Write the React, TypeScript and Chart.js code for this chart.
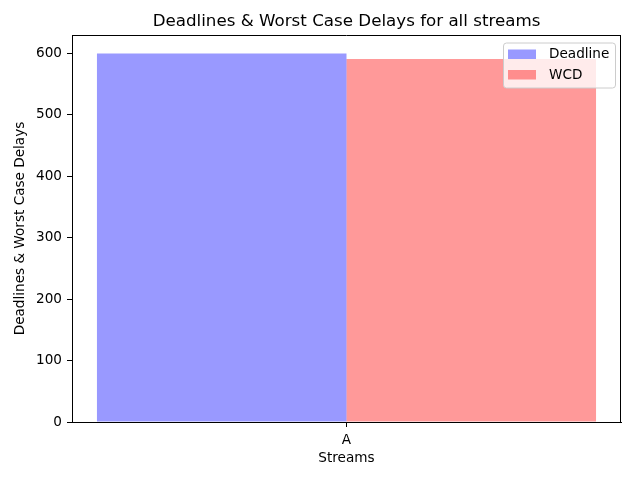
import React, { useEffect, useRef } from "react";
import { Chart, registerables } from "chart.js";

Chart.register(...registerables);

const categories = ["A"];
const deadlineValues = [600];
const wcdValues = [591];
const seriesLabels = ["Deadline", "WCD"];
const yTicks = [0, 100, 200, 300, 400, 500, 600];

const FONT = "'DejaVu Sans', sans-serif";
const FS = 13.6;
const BLUE = "rgba(0,0,255,0.4)";
const RED = "rgba(255,0,0,0.4)";

const framePlugin = {
  id: "frameAndLegend",
  afterDraw(chart: any) {
    const { ctx, chartArea } = chart;
    const { left, right, top, bottom } = chartArea;
    ctx.save();
    // frame (top and right)
    ctx.strokeStyle = "#000";
    ctx.lineWidth = 1;
    ctx.beginPath();
    ctx.moveTo(left, top + 0.5);
    ctx.lineTo(right, top + 0.5);
    ctx.moveTo(Math.round(right) - 0.5, top);
    ctx.lineTo(Math.round(right) - 0.5, bottom);
    ctx.stroke();
    // title
    ctx.fillStyle = "#000";
    ctx.font = `16.7px ${FONT}`;
    ctx.textAlign = "center";
    ctx.textBaseline = "alphabetic";
    ctx.fillText("Deadlines & Worst Case Delays for all streams", (left + right) / 2, 26);
    // legend
    const bx = 503.5, by = 43, bw = 112, bh = 45, r = 3;
    ctx.beginPath();
    ctx.moveTo(bx + r, by);
    ctx.lineTo(bx + bw - r, by);
    ctx.quadraticCurveTo(bx + bw, by, bx + bw, by + r);
    ctx.lineTo(bx + bw, by + bh - r);
    ctx.quadraticCurveTo(bx + bw, by + bh, bx + bw - r, by + bh);
    ctx.lineTo(bx + r, by + bh);
    ctx.quadraticCurveTo(bx, by + bh, bx, by + bh - r);
    ctx.lineTo(bx, by + r);
    ctx.quadraticCurveTo(bx, by, bx + r, by);
    ctx.closePath();
    ctx.fillStyle = "rgba(255,255,255,0.8)";
    ctx.fill();
    ctx.strokeStyle = "#cccccc";
    ctx.stroke();
    const colors = [BLUE, RED];
    const rows = [49.5, 70];
    ctx.font = `${FS}px ${FONT}`;
    ctx.textAlign = "left";
    ctx.textBaseline = "middle";
    seriesLabels.forEach((lab, i) => {
      ctx.fillStyle = colors[i];
      ctx.fillRect(508, rows[i], 28, 9.5);
      ctx.fillStyle = "#000";
      ctx.fillText(lab, 549, rows[i] + 5);
    });
    ctx.restore();
  },
};

export default function App() {
  const ref = useRef<HTMLCanvasElement>(null);
  useEffect(() => {
    document.body.style.margin = "0";
    const chart = new Chart(ref.current!, {
      type: "bar",
      data: {
        labels: categories,
        datasets: [
          { label: seriesLabels[0], data: deadlineValues, backgroundColor: BLUE, borderWidth: 0 },
          { label: seriesLabels[1], data: wcdValues, backgroundColor: RED, borderWidth: 0 },
        ],
      },
      options: {
        responsive: false,
        animation: false,
        categoryPercentage: 500 / 550,
        barPercentage: 1,
        layout: { padding: { left: 0, right: 19, top: 35, bottom: 0 } },
        plugins: { legend: { display: false }, tooltip: { enabled: false }, title: { display: false } },
        scales: {
          x: {
            afterFit: (s: any) => { s.height = 58; },
            grid: { drawOnChartArea: false, offset: false, color: "#000", tickLength: 5 },
            border: { color: "#000" },
            ticks: { color: "#000", font: { family: FONT, size: FS }, padding: 5 },
            title: { display: true, text: "Streams", color: "#000", font: { family: FONT, size: FS }, padding: { top: 0, bottom: 13 } },
          },
          y: {
            min: 0,
            max: 630,
            afterFit: (s: any) => { s.width = 72; },
            afterBuildTicks: (s: any) => { s.ticks = yTicks.map((v) => ({ value: v })); },
            grid: { drawOnChartArea: false, color: "#000", tickLength: 5 },
            border: { color: "#000" },
            ticks: { color: "#000", font: { family: FONT, size: FS }, padding: 5, stepSize: 100 },
            title: { display: true, text: "Deadlines & Worst Case Delays", color: "#000", font: { family: FONT, size: FS }, padding: { top: 12, bottom: 0 } },
          },
        },
      },
      plugins: [framePlugin],
    });
    return () => chart.destroy();
  }, []);
  return <canvas ref={ref} width={640} height={480} style={{ display: "block" }} />;
}
